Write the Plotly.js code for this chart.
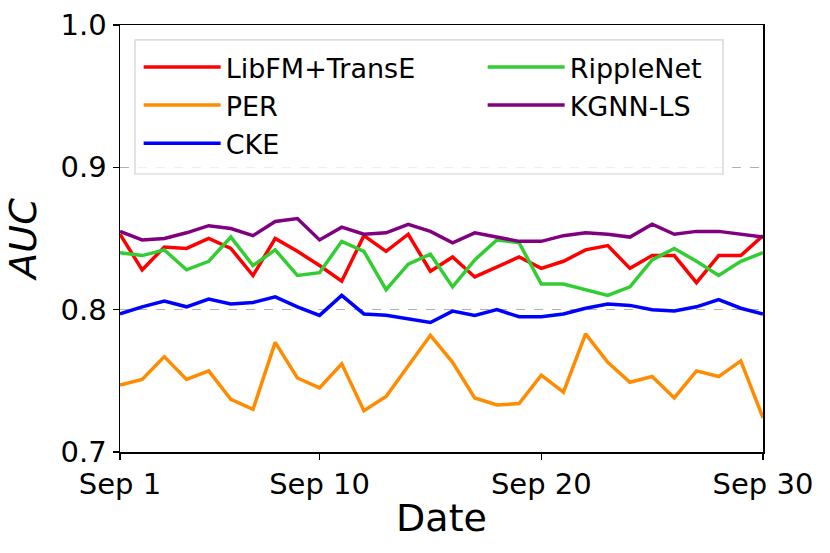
<!DOCTYPE html>
<html>
<head>
<meta charset="utf-8">
<script src="https://cdn.plot.ly/plotly-3.0.1.min.js"></script>
<style>
  html, body { margin: 0; padding: 0; background: #fff; }
  #chart { width: 830px; height: 553px; }
</style>
</head>
<body>
<div id="chart"></div>
<script>
// days of September
const days = [1, 2, 3, 4, 5, 6, 7, 8, 9, 10, 11, 12, 13, 14, 15,
              16, 17, 18, 19, 20, 21, 22, 23, 24, 25, 26, 27, 28, 29, 30]
const tick_days = [1, 10, 20, 30]
const tick_labels = ['Sep 1', 'Sep 10', 'Sep 20', 'Sep 30']

// AUC per day
const libfm_transe = [0.853, 0.828, 0.844, 0.843, 0.850, 0.843, 0.824, 0.850, 0.841, 0.831,
                      0.820, 0.852, 0.841, 0.853, 0.827, 0.837, 0.823, 0.830, 0.837, 0.829,
                      0.834, 0.842, 0.845, 0.829, 0.838, 0.838, 0.819, 0.838, 0.838, 0.852]
const per = [0.747, 0.751, 0.767, 0.751, 0.757, 0.737, 0.730, 0.777, 0.752, 0.745,
             0.762, 0.729, 0.739, 0.760, 0.782, 0.763, 0.738, 0.733, 0.734, 0.754,
             0.742, 0.783, 0.763, 0.749, 0.753, 0.738, 0.757, 0.753, 0.764, 0.724]
const cke = [0.797, 0.802, 0.806, 0.802, 0.8075, 0.804, 0.805, 0.809, 0.802, 0.796,
             0.810, 0.797, 0.796, 0.7935, 0.791, 0.799, 0.796, 0.800, 0.795, 0.795,
             0.797, 0.801, 0.804, 0.803, 0.800, 0.799, 0.802, 0.807, 0.801, 0.797]
const ripplenet = [0.840, 0.838, 0.842, 0.828, 0.834, 0.851, 0.831, 0.842, 0.824, 0.826,
                   0.848, 0.841, 0.814, 0.832, 0.839, 0.816, 0.835, 0.849, 0.847, 0.818,
                   0.818, 0.814, 0.810, 0.816, 0.835, 0.843, 0.834, 0.824, 0.834, 0.840]
const kgnn_ls = [0.855, 0.849, 0.850, 0.854, 0.859, 0.857, 0.852, 0.862, 0.864, 0.849,
                 0.858, 0.853, 0.854, 0.860, 0.855, 0.847, 0.854, 0.851, 0.848, 0.848,
                 0.852, 0.854, 0.853, 0.851, 0.860, 0.853, 0.855, 0.855, 0.853, 0.851]

const y_ticks = [0.7, 0.8, 0.9, 1.0]

// first legend column goes in 'legend', second in 'legend2'
function series(y, name, color, which) {
  return {
    x: days,
    y: y,
    name: name,
    type: 'scatter',
    mode: 'lines',
    line: {color: color, width: 3.5},
    legend: which
  }
}

var data = [
  series(libfm_transe, 'LibFM+TransE', '#ff0000', 'legend'),
  series(per, 'PER', '#ff8c00', 'legend'),
  series(cke, 'CKE', '#0000ff', 'legend'),
  series(ripplenet, 'RippleNet', '#32cd32', 'legend2'),
  series(kgnn_ls, 'KGNN-LS', '#800080', 'legend2')
]

var legend_font = {size: 27, family: 'DejaVu Sans', color: '#000'}

var layout = {
  width: 830,
  height: 553,
  margin: {l: 120, r: 67, t: 25, b: 101},
  paper_bgcolor: '#fff',
  plot_bgcolor: '#fff',
  font: {family: 'DejaVu Sans', color: '#000', size: 29},
  showlegend: true,
  legend: {
    x: 0.029, y: 0.958,
    xanchor: 'left', yanchor: 'top',
    itemwidth: 77,
    bgcolor: 'rgba(0,0,0,0)',
    borderwidth: 0,
    font: legend_font
  },
  legend2: {
    x: 0.564, y: 0.958,
    xanchor: 'left', yanchor: 'top',
    itemwidth: 77,
    bgcolor: 'rgba(0,0,0,0)',
    borderwidth: 0,
    font: legend_font
  },
  // frame around both legend columns
  shapes: [{
    type: 'rect', xref: 'paper', yref: 'paper', layer: 'above',
    x0: 0.0233, x1: 0.9378, y0: 0.651, y1: 0.965,
    line: {color: '#d0d0d0', width: 1.2},
    fillcolor: 'rgba(255,255,255,0.8)'
  }],
  xaxis: {
    range: [1, 30],
    tickvals: tick_days,
    ticktext: tick_labels,
    ticks: 'outside', ticklen: 6, tickwidth: 1.2, tickcolor: '#000',
    showline: true, linecolor: '#000', linewidth: 1.5, mirror: true,
    showgrid: false, zeroline: false,
    tickfont: {size: 29},
    title: {text: 'Date', font: {size: 38}, standoff: 4}
  },
  yaxis: {
    range: [0.7, 1.0],
    tickvals: y_ticks,
    tickformat: '.1f',
    ticks: 'outside', ticklen: 6, tickwidth: 1.2, tickcolor: '#000',
    showline: true, linecolor: '#000', linewidth: 1.5, mirror: true,
    showgrid: true, gridcolor: '#b0b0b0', griddash: 'dash', gridwidth: 1,
    zeroline: false,
    tickfont: {size: 29},
    title: {text: '<i>AUC</i>', font: {size: 38}, standoff: 12}
  }
}

Plotly.newPlot('chart', data, layout, {displayModeBar: false, staticPlot: true})
</script>
</body>
</html>
